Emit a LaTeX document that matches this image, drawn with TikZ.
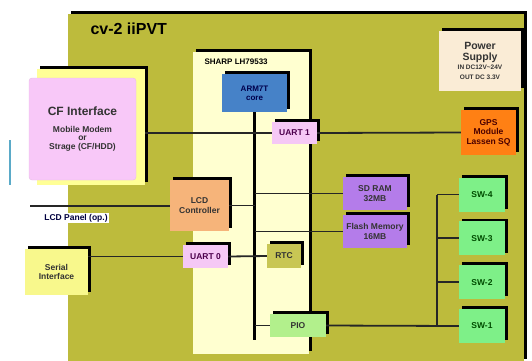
\documentclass[tikz,border=0pt]{standalone}
\usepackage{fontspec}
\setmainfont{Liberation Sans}
\usetikzlibrary{shadows,positioning}
\definecolor{bolive}{RGB}{189,187,60}
\definecolor{chipbg}{RGB}{255,255,208}
\definecolor{cfpink}{RGB}{248,200,248}
\definecolor{cfyel}{RGB}{255,255,150}
\definecolor{armblue}{RGB}{70,130,200}
\definecolor{uartpink}{RGB}{245,200,245}
\definecolor{gpsorg}{RGB}{255,128,20}
\definecolor{pwrbg}{RGB}{250,236,214}
\definecolor{lcdorg}{RGB}{246,180,122}
\definecolor{seryel}{RGB}{248,248,140}
\definecolor{rtcol}{RGB}{200,198,84}
\definecolor{piogrn}{RGB}{178,240,140}
\definecolor{mempur}{RGB}{180,124,234}
\definecolor{swgrn}{RGB}{126,240,136}
\definecolor{stray}{RGB}{90,170,200}
\newcommand{\bxfont}{\fontsize{8.5}{9.5}\selectfont\bfseries}
\newcommand{\tinyfont}{\fontsize{6.5}{7.5}\selectfont\bfseries}
\tikzset{
  shd/.style={general shadow={fill=black, shadow xshift=3pt, shadow yshift=2.8pt}},
  blk/.style={shd, inner sep=1pt, align=center, font=\bxfont, text=black!80},
  sml/.style={font=\bxfont},
  lnk/.style={black!85, line width=1.8pt},
  bus/.style={black, line width=2.2pt},
  ttl/.style={font=\fontsize{16}{18}\selectfont\bfseries, anchor=west},
}

\begin{document}
\begin{tikzpicture}[x=1pt, y=-1pt]
  \useasboundingbox (0,0) rectangle (532,360);
  % board and chip
  \path[fill=bolive, shd] (68,14) rectangle (524,362);
  \node[ttl] (title) at (87,29) {cv-2 iiPVT};
  \path[fill=chipbg, shd] (193,52) rectangle (309,354);
  \node[sml, anchor=west, font=\fontsize{8}{9}\selectfont\bfseries] (chiplab) at (201,62) {SHARP LH79533};
  \draw[stray, line width=1.8pt] (10,140) -- (10,185);

  % outside the chip
  \node[blk, fill=cfyel, minimum width=108, minimum height=116] (cfback) at (91,127) {};
  \node[fill=cfpink, draw=cfpink!85!gray, line width=0.4pt, rounded corners=3pt,
        minimum width=107, minimum height=102, align=center, text=black!80,
        font=\bxfont] (cf) at (82.5,129)
        {\large CF Interface\\[7pt]
         Mobile Modem\\[-1pt]or\\[-1pt]Strage (CF/HDD)};
  \node[blk, fill=pwrbg, minimum width=82, minimum height=60,
        font=\fontsize{10.5}{11.5}\selectfont\bfseries] (power) at (480,61)
        {Power\\[-1pt]Supply\\[-2pt]
         \tinyfont IN DC12V\textasciitilde24V\\[-2pt]
         \tinyfont OUT DC 3.3V};
  \node[blk, fill=gpsorg, minimum width=55, minimum height=45, text=black!70!red] (gps) at (488.5,132.5)
        {GPS\\Module\\Lassen SQ};
  \node[blk, fill=seryel, minimum width=63, minimum height=46] (serial) at (56.5,272)
        {Serial\\Interface};
  \node[blk, fill=mempur, minimum width=64, minimum height=33] (sdram) at (375,193.5)
        {SD RAM\\32MB};
  \node[blk, fill=mempur, minimum width=64, minimum height=33] (flash) at (375,231.5)
        {Flash Memory\\16MB};
  \foreach \i/\y in {4/194.5,3/238.3,2/282.1,1/326}
    \node[blk, fill=swgrn, minimum width=46, minimum height=34, text=green!30!black] (sw\i) at (482,\y) {SW-\i};

  % inside the chip
  \node[blk, fill=armblue, minimum width=65, minimum height=38, font=\fontsize{8}{9}\selectfont\bfseries,
        text=blue!30!black] (arm) at (254.5,93) {ARM7T\\core};
  \node[blk, fill=uartpink, minimum width=45, minimum height=22, text=violet!60!black] (uart1) at (294.5,133) {UART 1};
  \node[blk, fill=lcdorg, minimum width=59, minimum height=51] (lcd) at (199.5,205.5) {LCD\\Controller};
  \node[blk, fill=uartpink, minimum width=45, minimum height=23, text=violet!60!black] (uart0) at (205.5,256.5) {UART 0};
  \node[blk, fill=rtcol, minimum width=34, minimum height=24] (rtc) at (284,256) {RTC};
  \node[blk, fill=piogrn, minimum width=56, minimum height=23] (pio) at (298,325.5) {PIO};

  % connections
  \coordinate (busend) at (254.5,340);
  \coordinate (panel) at (30,206);
  \coordinate (swbus) at (437,0);
  \draw[bus] (arm.south) -- (busend);
  \draw[lnk] (uart1.west -| cfback.east) -- (uart1.west);
  \draw[lnk] (uart1.east) -- (gps.west);
  \draw[lnk] (panel) -- (panel -| lcd.west);
  \node[sml, fill=white, inner sep=1pt, text=blue!25!black] (panellab) at (76,218) {LCD Panel (op.)};
  \draw[lnk] (lcd.east) -- (lcd.east -| arm.south);
  \draw[lnk] (sdram.west) -- (sdram.west -| arm.south);
  \draw[lnk] (flash.west) -- (flash.west -| arm.south);
  \draw[lnk] (uart0.west -| serial.east) -- (uart0.west);
  \draw[lnk] (uart0.east) -- (rtc.west);
  \draw[lnk] (pio.west) -- (pio.west -| arm.south);
  \draw[lnk] (pio.east) -- (sw1.west);
  \draw[lnk] (sw4.west -| swbus) -- (sw1.west -| swbus);
  \foreach \s in {sw4,sw3,sw2}
    \draw[lnk] (\s.west) -- (\s.west -| swbus);
\end{tikzpicture}
\end{document}
